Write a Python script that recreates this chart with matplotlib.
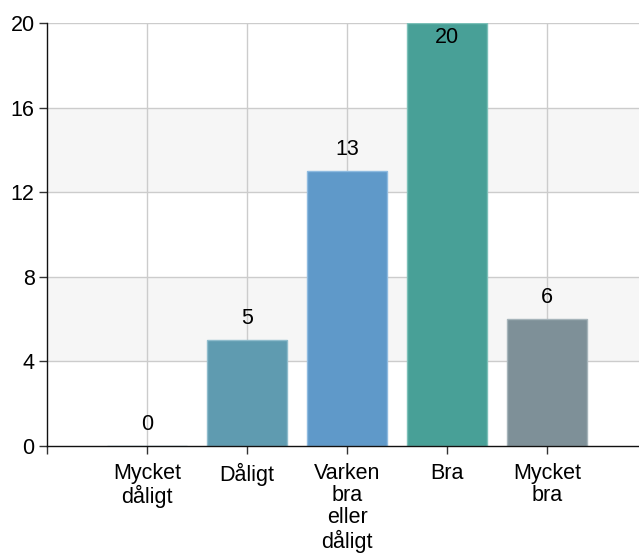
import matplotlib
matplotlib.use("Agg")
import matplotlib.pyplot as plt

categories = ["Mycket\ndåligt", "Dåligt", "Varken\nbra\neller\ndåligt", "Bra", "Mycket\nbra"]
values = [0, 5, 13, 20, 6]
colors = ["#5f9bb0", "#5f9bb0", "#5f99c9", "#48a097", "#7e9098"]
edge_colors = ["#8fbccc", "#8fbccc", "#8fbbe0", "#7cc0b8", "#a6b4ba"]
yticks = [0, 4, 8, 12, 16, 20]

plt.rcParams['font.family'] = ['Liberation Sans', 'DejaVu Sans']

fig = plt.figure(figsize=(6.39, 5.53), dpi=100)
ax = fig.add_axes([47/639, 107/553, 592/639, 423/553])

ymax = 20
ax.set_xlim(-1, 4.92)
ax.set_ylim(0, ymax)

# alternating bands
for i in range(len(yticks) - 1):
    if i % 2 == 1:
        ax.axhspan(yticks[i], yticks[i + 1], color="#f6f6f6", zorder=0, lw=0)

for y in yticks[1:]:
    ax.axhline(y, color="#cccccc", lw=1, zorder=1)
xs = list(range(len(categories)))
for x in xs:
    ax.axvline(x, color="#cccccc", lw=1, zorder=1)

bars = ax.bar(xs, values, width=0.8, color=colors, edgecolor=edge_colors, linewidth=1, zorder=2)

fs = 15.5
for x, v in zip(xs, values):
    if v >= ymax - 1.5:
        ax.annotate(str(v), (x, v), xytext=(0, -3), textcoords="offset points",
                    ha="center", va="top", fontsize=fs, color="#000000", zorder=3)
    else:
        ax.annotate(str(v), (x, v), xytext=(0, 8), textcoords="offset points",
                    ha="center", va="bottom", fontsize=fs, color="#000000", zorder=3)

ax.set_yticks(yticks)
ax.set_yticklabels([str(t) for t in yticks], fontsize=fs, color="#000000")
ax.set_xticks([-1] + xs)
ax.set_xticklabels([""] + categories, fontsize=fs, linespacing=1.08, va="top", color="#000000")
ax.tick_params(axis="both", length=6, width=1, color="#333333")
ax.tick_params(axis="x", pad=6)
ax.tick_params(axis="y", pad=3)

for s in ["top", "right"]:
    ax.spines[s].set_visible(False)
for s in ["left", "bottom"]:
    ax.spines[s].set_color("#111111")
    ax.spines[s].set_linewidth(1)
    ax.spines[s].set_zorder(4)

fig.savefig("out.png", dpi=100)
